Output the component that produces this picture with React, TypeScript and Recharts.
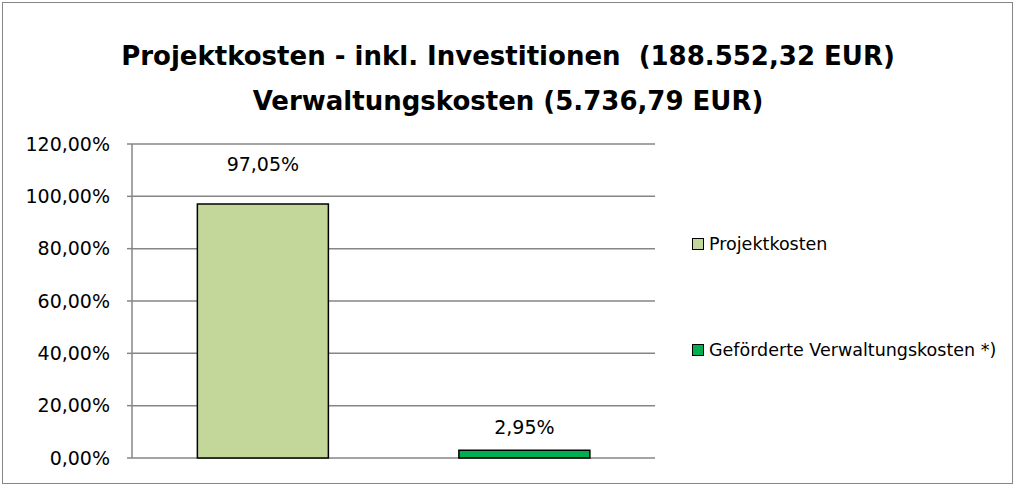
import { BarChart, Bar, XAxis, YAxis, CartesianGrid, Cell, LabelList } from 'recharts';

const categories = ['Projektkosten', 'Geförderte Verwaltungskosten *)'];
const shares = [0.9705, 0.0295];
const barColors = ['#C4D79B', '#00B050'];
const yTicks = [0, 0.2, 0.4, 0.6, 0.8, 1.0, 1.2];
const titleLines = [
  'Projektkosten - inkl. Investitionen  (188.552,32 EUR)',
  'Verwaltungskosten (5.736,79 EUR)',
];

const data = categories.map((name, i) => ({ name, value: shares[i], fill: barColors[i] }));

const FONT = '"DejaVu Sans", sans-serif';
const GRID = '#868686';

const pct = (v: number) =>
  (v * 100).toFixed(2).replace('.', ',') + '%';

const BarLabel = (props: any) => {
  const { x, y, width, value, index } = props;
  // Excel placed the tall bar's label a bit higher
  const lift = index === 0 ? 33 : 16;
  return (
    <text
      x={x + width / 2}
      y={y - lift}
      textAnchor="middle"
      fontFamily={FONT}
      fontSize={19}
      fill="#000"
    >
      {pct(value)}
    </text>
  );
};

const LegendBox = () => (
  <div
    style={{
      position: 'absolute',
      left: 692,
      top: 232,
      fontFamily: FONT,
      fontSize: 17.5,
      color: '#000',
    }}
  >
    {categories.map((name, i) => (
      <div
        key={name}
        style={{ display: 'flex', alignItems: 'center', height: 24, marginBottom: i === 0 ? 82 : 0 }}
      >
        <span
          style={{
            display: 'inline-block',
            width: 10,
            height: 10,
            background: barColors[i],
            border: '1.5px solid #000',
            marginRight: 5,
          }}
        />
        <span style={{ whiteSpace: 'nowrap' }}>{name}</span>
      </div>
    ))}
  </div>
);

export default function App() {
  return (
    <div style={{ position: 'absolute', left: 0, top: 0, width: 1016, height: 486, background: '#fff' }}>
      <div
        style={{
          position: 'absolute',
          left: 2,
          top: 2,
          width: 1011,
          height: 482,
          border: `1.5px solid ${GRID}`,
          boxSizing: 'border-box',
        }}
      />
      <div
        style={{
          position: 'absolute',
          left: 0,
          top: 34,
          width: 1016,
          textAlign: 'center',
          fontFamily: FONT,
          fontWeight: 'bold',
          fontSize: 26,
          lineHeight: '45px',
          color: '#000',
        }}
      >
        {titleLines.map((t) => (
          <div key={t} style={{ whiteSpace: 'pre' }}>{t}</div>
        ))}
      </div>
      <div style={{ position: 'absolute', left: 0, top: 0 }}>
        <BarChart
          width={1016}
          height={486}
          data={data}
          margin={{ top: 144, right: 361, bottom: 28, left: 0 }}
          barCategoryGap="25%"
        >
          <CartesianGrid vertical={false} stroke={GRID} strokeWidth={1.5} />
          <XAxis dataKey="name" hide />
          <YAxis
            width={132}
            domain={[0, 1.2]}
            ticks={yTicks}
            tickFormatter={pct}
            axisLine={{ stroke: GRID, strokeWidth: 1.5 }}
            tickLine={{ stroke: GRID, strokeWidth: 1.5 }}
            tickSize={5}
            tickMargin={17}
            tick={{ fontFamily: FONT, fontSize: 19, fill: '#000' }}
            interval={0}
          />
          <Bar dataKey="value" stroke="#000" strokeWidth={1.5} isAnimationActive={false}>
            {data.map((d) => (
              <Cell key={d.name} fill={d.fill} />
            ))}
            <LabelList dataKey="value" content={<BarLabel />} />
          </Bar>
        </BarChart>
      </div>
      <LegendBox />
    </div>
  );
}
